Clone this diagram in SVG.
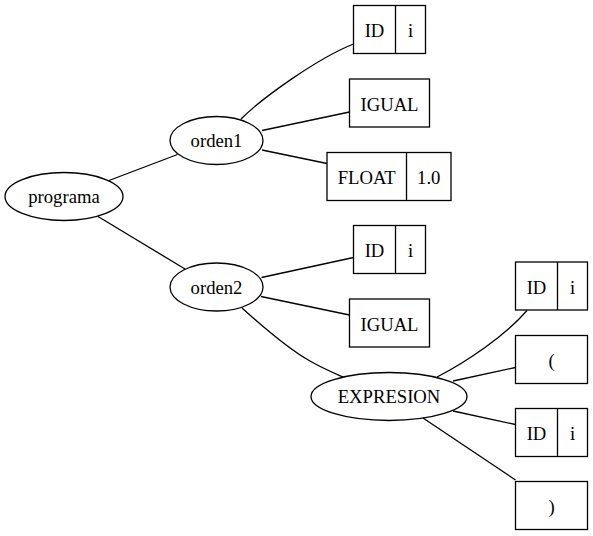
<svg xmlns="http://www.w3.org/2000/svg" width="593" height="536" viewBox="0 0 593 536">
<style>
.n{fill:none;stroke:#000;stroke-width:1.3}
.e{fill:none;stroke:#000;stroke-width:1.3}
.t text{font-family:"Liberation Serif","Times New Roman",serif;font-size:18.67px;text-anchor:middle;fill:#000}
</style>
<rect width="593" height="536" fill="#fff"/>
<g id="edges">
<path class="e" d="M109,180.5 L177.5,154.5"/>
<path class="e" d="M98,216.5 L185,269"/>
<path class="e" d="M241,119 C262,98 318,58 353.5,44"/>
<path class="e" d="M262,130.5 L349.5,112"/>
<path class="e" d="M262,150 L327,163.5"/>
<path class="e" d="M261.5,277.5 L353.5,257.5"/>
<path class="e" d="M261,296.5 L349.5,315"/>
<path class="e" d="M242,308 C262,326 290,350 310,361 C322,368 334,373 343,377"/>
<path class="e" d="M437,377 C466,362 505,336 527,310.5"/>
<path class="e" d="M453,381 L515.5,367.5"/>
<path class="e" d="M453,411 L515.5,424.5"/>
<path class="e" d="M423,418 L515.5,480"/>
</g>
<g class="t">
<g id="programa"><ellipse class="n" cx="64" cy="196.5" rx="59" ry="24"/><text x="64" y="203">programa</text></g>
<g id="orden1"><ellipse class="n" cx="216.5" cy="140.5" rx="46.5" ry="24"/><text x="216.5" y="147">orden1</text></g>
<g id="orden2"><ellipse class="n" cx="216.5" cy="287" rx="46.5" ry="24"/><text x="216.5" y="293.5">orden2</text></g>
<g id="expresion"><ellipse class="n" cx="389" cy="396.5" rx="78" ry="24"/><text x="389" y="403">EXPRESION</text></g>
<g id="id1"><rect class="n" x="353.5" y="5.5" width="72" height="48"/><line class="n" x1="395.5" y1="5.5" x2="395.5" y2="53.5"/><text x="374.5" y="37">ID</text><text x="410.5" y="37">i</text></g>
<g id="igual1"><rect class="n" x="349.5" y="79" width="80" height="48"/><text x="389.5" y="110.5">IGUAL</text></g>
<g id="float1"><rect class="n" x="327" y="152.5" width="124" height="48"/><line class="n" x1="406.5" y1="152.5" x2="406.5" y2="200.5"/><text x="366.75" y="184">FLOAT</text><text x="428.75" y="184">1.0</text></g>
<g id="id2"><rect class="n" x="353.5" y="225.5" width="72" height="48"/><line class="n" x1="395.5" y1="225.5" x2="395.5" y2="273.5"/><text x="374.5" y="257">ID</text><text x="410.5" y="257">i</text></g>
<g id="igual2"><rect class="n" x="349.5" y="299" width="80" height="48"/><text x="389.5" y="330.5">IGUAL</text></g>
<g id="id3"><rect class="n" x="515.5" y="262" width="72" height="48"/><line class="n" x1="557.5" y1="262" x2="557.5" y2="310"/><text x="536.5" y="293.5">ID</text><text x="572.5" y="293.5">i</text></g>
<g id="lparen"><rect class="n" x="515.5" y="335.5" width="72" height="48"/><text x="551.5" y="367">(</text></g>
<g id="id4"><rect class="n" x="515.5" y="408.5" width="72" height="48"/><line class="n" x1="557.5" y1="408.5" x2="557.5" y2="456.5"/><text x="536.5" y="440">ID</text><text x="572.5" y="440">i</text></g>
<g id="rparen"><rect class="n" x="515.5" y="481.5" width="72" height="48"/><text x="551.5" y="513">)</text></g>
</g>
</svg>
